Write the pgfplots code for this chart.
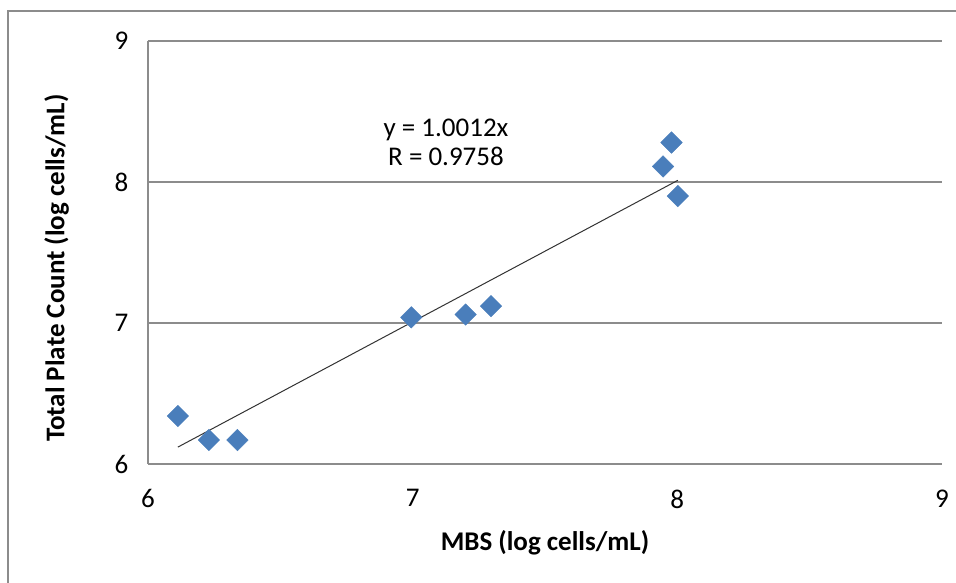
\documentclass[border=0pt]{standalone}
\usepackage{fontspec}
\setmainfont{Carlito}
\usepackage{pgfplots}
\pgfplotsset{compat=1.18}
\definecolor{mblue}{HTML}{4A7EBB}
\definecolor{gridgray}{HTML}{8C8C8C}
\begin{document}
\begin{tikzpicture}[x=1pt,y=1pt]
\useasboundingbox (0,0) rectangle (956,583);
\draw[gridgray, line width=2pt] (8,0) -- (8,572) -- (956,572);
\begin{axis}[
  at={(148pt,119pt)}, anchor=south west,
  scale only axis, width=794pt, height=423pt,
  xmin=6, xmax=9, ymin=6, ymax=9,
  xtick={6,7,8,9}, ytick={6,7,8,9},
  axis x line=bottom, axis y line=left,
  axis line style={gridgray, line width=1.2pt, -},
  ymajorgrids,
  major grid style={gridgray, line width=1.2pt},
  tick style={draw=none},
  ticklabel style={font=\fontsize{27}{32}\selectfont},
  /pgf/number format/assume math mode=true,
  xticklabel style={yshift=-20pt},
  yticklabel style={xshift=-14pt},
  xlabel={MBS (log cells/mL)},
  ylabel={Total Plate Count (log cells/mL)},
  label style={font=\bfseries\fontsize{27}{32}\selectfont},
  xlabel style={at={(axis description cs:0.5,-0.187)}, anchor=center},
  ylabel style={at={(axis description cs:-0.115,0.463)}, anchor=center},
  clip=false,
]
\addplot[only marks, mark=square*, mark size=7.6pt,
  mark options={rotate=45, fill=mblue, draw=mblue}]
  coordinates {
  (6.113,6.34) (6.230,6.17) (6.338,6.17)
  (6.995,7.04) (7.200,7.06) (7.296,7.12)
  (7.946,8.11) (7.978,8.28) (8.002,7.90)
  };
\addplot[black!80, line width=1pt] coordinates {(6.113,6.120) (8.002,8.012)};
\node[font=\fontsize{27}{32}\selectfont, align=center, anchor=center] at (axis cs:7.126,8.28)
  {y = 1.0012x\\[-3pt]R = 0.9758};
\end{axis}
\end{tikzpicture}
\end{document}
